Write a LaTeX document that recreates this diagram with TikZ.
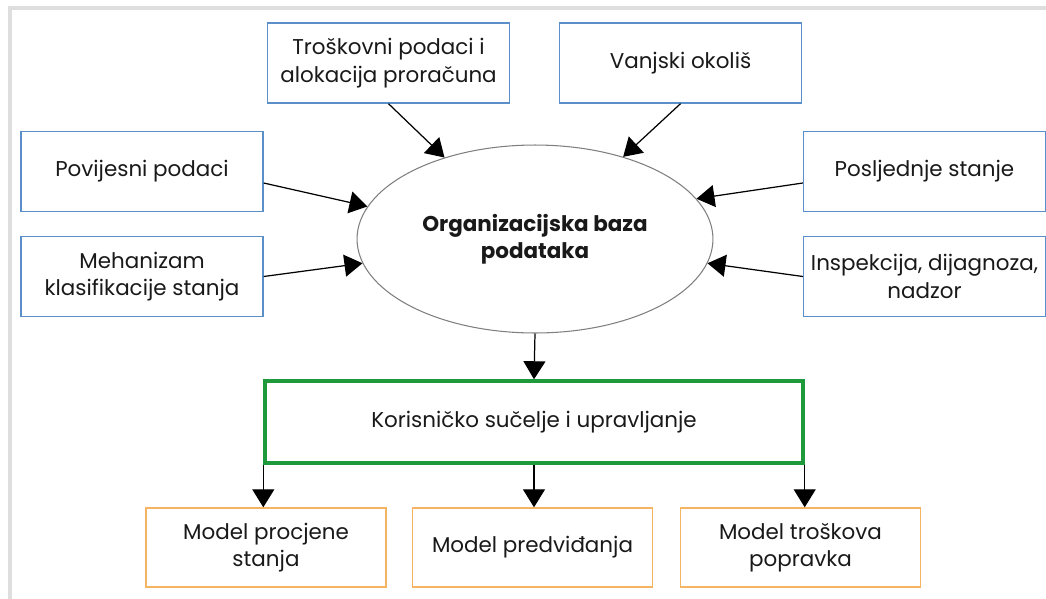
\documentclass[tikz,border=0pt]{standalone}
\usepackage{fontspec}
\setmainfont{Poppins}
\usetikzlibrary{arrows.meta, positioning, shapes.geometric}

\definecolor{okvir}{HTML}{DEDEDE}
\definecolor{plava}{HTML}{5B8FC9}
\definecolor{narancasta}{HTML}{F5B461}
\definecolor{zelena}{HTML}{1E9A3C}
\definecolor{siva}{HTML}{7F7F7F}

\tikzset{
    tekst/.style={font=\fontsize{12.2}{15.6}\selectfont, align=center, text=black!90},
    ulaz/.style={tekst, draw=plava, line width=0.8pt, minimum width=4.84cm, minimum height=1.6cm, inner sep=1pt},
    model/.style={tekst, draw=narancasta, line width=0.8pt, minimum width=4.8cm, minimum height=1.58cm, inner sep=1pt},
    sucelje/.style={tekst, draw=zelena, line width=2pt, minimum width=10.76cm, minimum height=1.64cm},
    baza/.style={tekst, font=\fontsize{12.2}{15.6}\selectfont\bfseries, ellipse, draw=siva, line width=0.6pt, minimum width=7.12cm, minimum height=3.76cm, inner sep=0pt},
    strelica/.style={-{Triangle[length=0.36cm,width=0.44cm]}, line width=0.7pt}
}

\begin{document}
\begin{tikzpicture}[x=0.02cm, y=-0.02cm]
    \useasboundingbox (0,0) rectangle (1046,599);
    \fill[okvir] (8,6) rectangle (1046,9.5);
    \fill[okvir] (8,6) rectangle (11.5,599);

    \node[baza] (org) at (535,239) {Organizacijska baza\\podataka};

    \node[ulaz] (trosk) at (388.5,63) {Troškovni podaci i\\alokacija proračuna};
    \node[ulaz] (okolis) at (680.5,63) {Vanjski okoliš};
    \node[ulaz] (povij) at (142,171.5) {Povijesni podaci};
    \node[ulaz] (meh) at (142,276.5) {Mehanizam\\klasifikacije stanja};
    \node[ulaz] (posl) at (924.5,171.5) {Posljednje stanje};
    \node[ulaz] (insp) at (924.5,276.5) {Inspekcija, dijagnoza,\\nadzor};

    \node[sucelje] (ui) at (534,422) {Korisničko sučelje i upravljanje};

    \node[model] (procj) at (266,547.5) {Model procjene\\stanja};
    \node[model] (predv) at (532.5,547.5) {Model predviđanja};
    \node[model] (popr) at (800.5,547.5) {Model troškova\\popravka};

    \draw[strelica] (trosk.south) -- (org.138);
    \draw[strelica] (okolis.south) -- (org.43);
    \draw[strelica] ([yshift=-0.23cm]povij.east) -- (org.169);
    \draw[strelica] (meh.east) -- (org.188);
    \draw[strelica] ([yshift=-0.23cm]posl.west) -- (org.14);
    \draw[strelica] (insp.west) -- (org.352);

    \draw[strelica] (org.south) -- (ui.north);
    \draw[strelica] (ui.south west) -- (ui.south west |- procj.north);
    \draw[strelica] (ui.south) -- (ui.south |- predv.north);
    \draw[strelica] (ui.south east) -- (ui.south east |- popr.north);
\end{tikzpicture}
\end{document}
